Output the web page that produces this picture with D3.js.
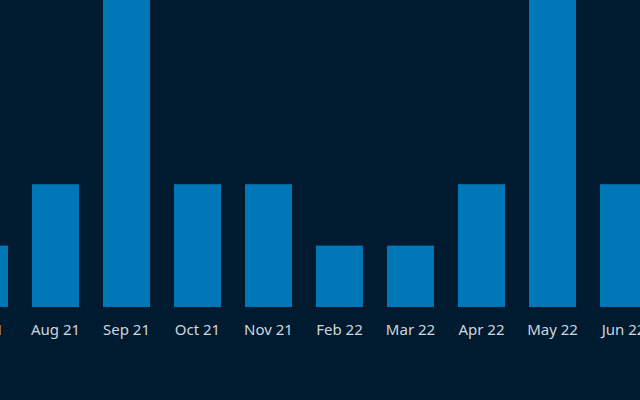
<!DOCTYPE html>
<html>
  <head>
    <script src="https://d3js.org/d3.v7.min.js"></script>
    <style>
      body { margin: 0; background: #001a2f; }
    </style>
  </head>
  <body>
    <div id="chart"></div>
    <script>
      const months = ["Jul 21", "Aug 21", "Sep 21", "Oct 21", "Nov 21", "Feb 22", "Mar 22", "Apr 22", "May 22", "Jun 22"];
      const counts = [1, 2, 5, 2, 2, 1, 1, 2, 5, 2];

      const width = 640;
      const height = 400;

      const svg = d3
        .select("#chart")
        .append("svg")
        .attr("width", width)
        .attr("height", height)
        .style("display", "block");

      svg.append("rect").attr("width", width).attr("height", height).attr("fill", "#001a2f");

      const x = d3
        .scaleBand()
        .domain(months)
        .range([-51, 659])
        .paddingInner(24 / 71)
        .paddingOuter(12 / 71);

      const y = d3.scaleLinear().domain([0, 5]).range([307, 0]);

      svg
        .selectAll("rect.bar")
        .data(months)
        .enter()
        .append("rect")
        .attr("class", "bar")
        .attr("x", (d) => x(d))
        .attr("width", x.bandwidth())
        .attr("y", (d, i) => y(counts[i]))
        .attr("height", (d, i) => y(0) - y(counts[i]))
        .attr("fill", "#0077b6");

      const axis = svg
        .append("g")
        .attr("transform", "translate(0,307)")
        .call(d3.axisBottom(x).tickSize(0).tickPadding(17));

      axis.select(".domain").remove();
      axis
        .selectAll("text")
        .attr("fill", "#cfd6dd")
        .style("font-family", "'Noto Sans', sans-serif")
        .style("font-size", "15px");
    </script>
  </body>
</html>
